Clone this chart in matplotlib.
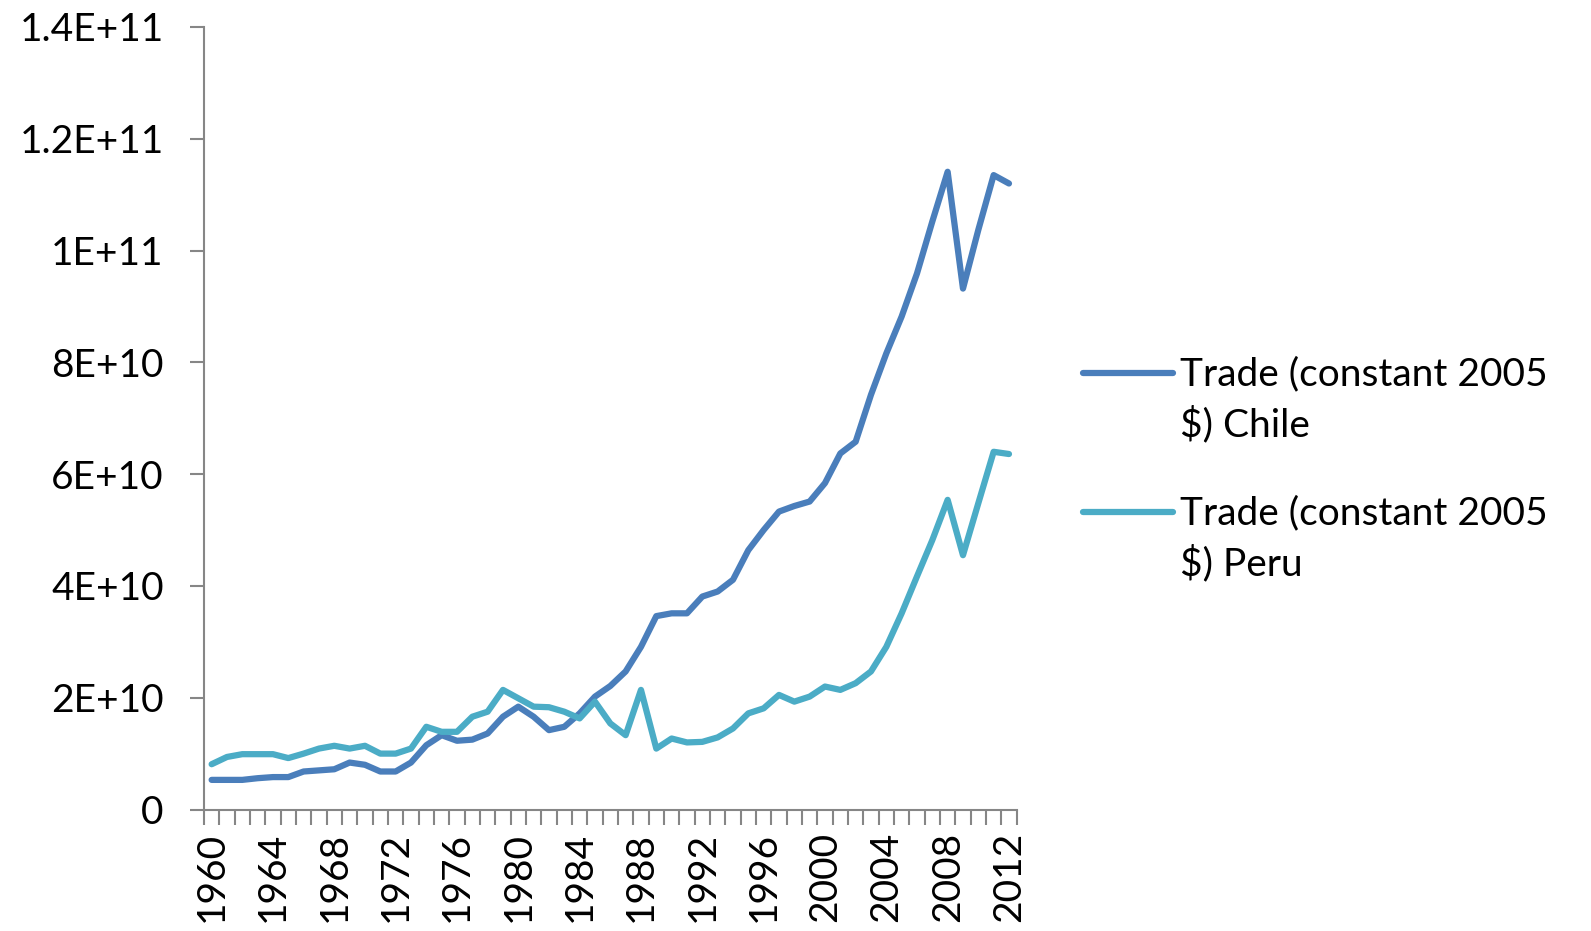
import matplotlib.pyplot as plt
from matplotlib.lines import Line2D
from matplotlib.ticker import FixedLocator

years = list(range(1960, 2013))

# Trade (constant 2005 $), in units of 1E+10
chile = [0.53, 0.53, 0.53, 0.56, 0.58, 0.58, 0.68, 0.70, 0.72, 0.84,
         0.80, 0.68, 0.68, 0.84, 1.15, 1.33, 1.23, 1.25, 1.36, 1.66,
         1.84, 1.66, 1.42, 1.48, 1.72, 2.02, 2.21, 2.47, 2.91, 3.46,
         3.51, 3.51, 3.81, 3.90, 4.11, 4.64, 5.00, 5.33, 5.43, 5.51,
         5.84, 6.37, 6.58, 7.42, 8.16, 8.82, 9.59, 10.52, 11.41, 9.32,
         10.37, 11.35, 11.20]
peru = [0.81, 0.94, 0.99, 0.99, 0.99, 0.92, 1.00, 1.09, 1.14, 1.09,
        1.14, 1.00, 1.00, 1.09, 1.48, 1.39, 1.39, 1.66, 1.75, 2.14,
        1.99, 1.84, 1.83, 1.75, 1.63, 1.93, 1.54, 1.33, 2.14, 1.09,
        1.27, 1.20, 1.21, 1.29, 1.45, 1.72, 1.81, 2.05, 1.93, 2.02,
        2.20, 2.14, 2.26, 2.47, 2.91, 3.51, 4.17, 4.82, 5.54, 4.55,
        5.48, 6.40, 6.36]

labels = ["Trade (constant 2005\n$) Chile", "Trade (constant 2005\n$) Peru"]
colors = ['#4A7EBB', '#4BACC6']
y_ticks = [0, 2e10, 4e10, 6e10, 8e10, 1e11, 1.2e11, 1.4e11]
y_tick_labels = ["0", "2E+10", "4E+10", "6E+10", "8E+10", "1E+11", "1.2E+11", "1.4E+11"]
x_tick_years = years[::4]

plt.rcParams['font.family'] = ['Lato', 'DejaVu Sans']

fig = plt.figure(figsize=(15.91, 9.31), dpi=100)
ax = fig.add_axes([0.1282, 0.1305, 0.5108, 0.8405])

for series, color in zip([chile, peru], colors):
    ax.plot(years, [v * 1e10 for v in series], color=color, lw=4.5,
            solid_joinstyle='round', solid_capstyle='round')

ax.set_xlim(1959.5, 2012.5)
ax.set_ylim(0, 1.4e11)

# y axis
ax.set_yticks(y_ticks)
ax.set_yticklabels(y_tick_labels)
ax.tick_params(axis='y', length=10, width=1.5, color='#868686',
               labelsize=28, pad=19)

# x axis: tick marks between categories, labels at every 4th year
ax.set_xticks(x_tick_years)
ax.set_xticklabels([str(y) for y in x_tick_years], rotation=90)
ax.xaxis.set_minor_locator(FixedLocator([y - 0.5 for y in years] + [2012.5]))
ax.tick_params(axis='x', which='major', length=0, labelsize=28, pad=16)
ax.tick_params(axis='x', which='minor', length=11, width=1.5, color='#868686')

for side in ['top', 'right']:
    ax.spines[side].set_visible(False)
for side in ['left', 'bottom']:
    ax.spines[side].set_color('#868686')
    ax.spines[side].set_linewidth(1.5)

# legend, Excel style: handle level with the first line of each label
for i, (label, color) in enumerate(zip(labels, colors)):
    y_handle = 0.5994 - i * 0.1493
    fig.add_artist(Line2D([0.6807, 0.7373], [y_handle, y_handle], color=color,
                          lw=4.5, solid_capstyle='round',
                          transform=fig.transFigure))
    fig.text(0.7417, y_handle + 0.0183, label, fontsize=28, va='top',
             ha='left', linespacing=1.45)

plt.savefig('out.png', dpi=100)
